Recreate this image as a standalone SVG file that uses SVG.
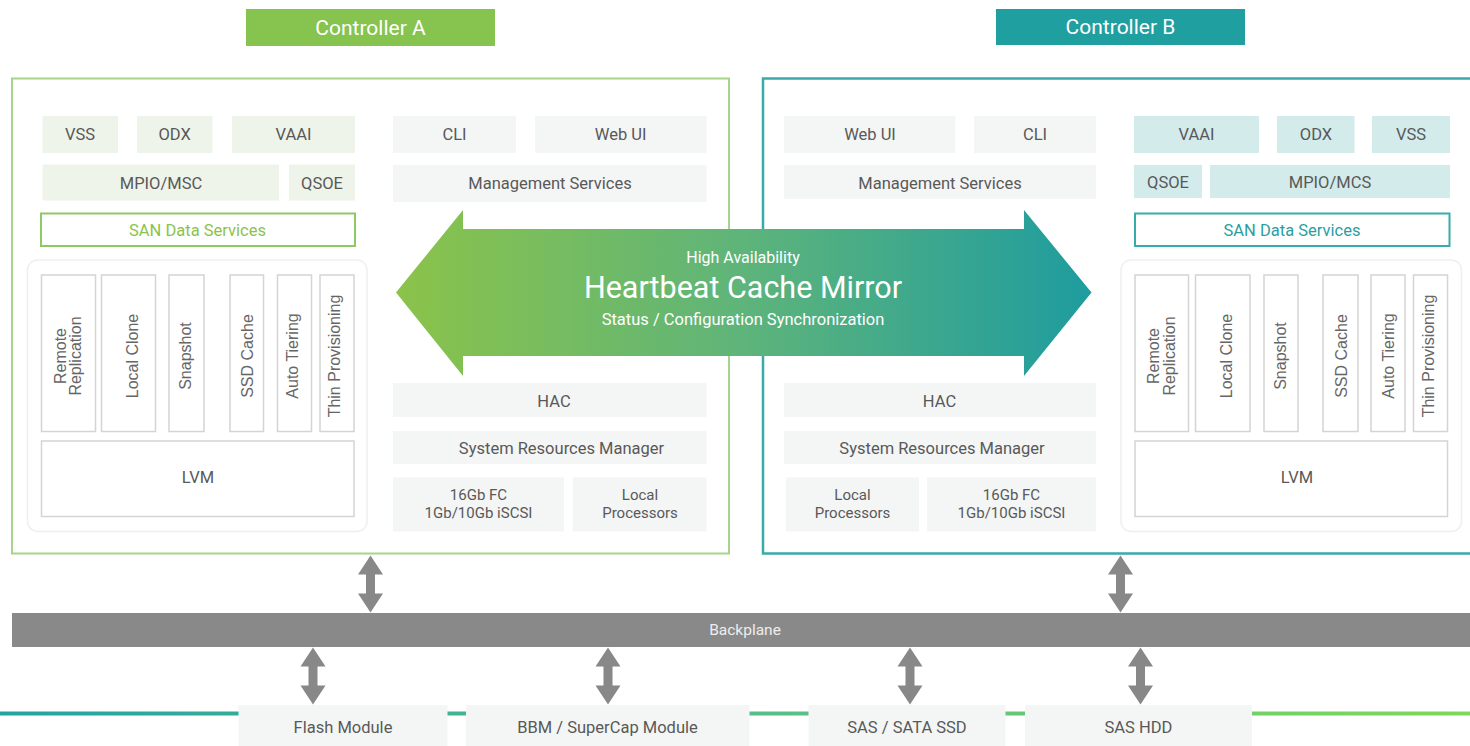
<svg xmlns="http://www.w3.org/2000/svg" xmlns:xlink="http://www.w3.org/1999/xlink" width="1470" height="746" viewBox="0 0 1470 746">
<defs>
<linearGradient id="haGrad" x1="396" y1="0" x2="1092" y2="0" gradientUnits="userSpaceOnUse">
<stop offset="0" stop-color="#8bc34a"/>
<stop offset="0.5" stop-color="#5eb47a"/>
<stop offset="1" stop-color="#1e9c9f"/>
</linearGradient>
<linearGradient id="lineGrad" x1="0" y1="0" x2="1470" y2="0" gradientUnits="userSpaceOnUse">
<stop offset="0" stop-color="#22a4a2"/>
<stop offset="0.5" stop-color="#55bd8a"/>
<stop offset="1" stop-color="#7ed957"/>
</linearGradient>
<path id="dbl" d="M0,0 L12.5,19 L4.5,19 L4.5,38 L12.5,38 L0,57 L-12.5,38 L-4.5,38 L-4.5,19 L-12.5,19 Z"/>
<style>
.lbl{font-family:Roboto,"Liberation Sans",sans-serif;font-size:16.5px;fill:#595959;text-anchor:middle}
.two{font-size:15px}
.vt{font-family:"Liberation Sans",Arial,sans-serif;font-size:16px;fill:#666;text-anchor:middle}
.gbox{fill:#f4f5f5}
.lg{fill:#eef4ea}
.lt{fill:#d3ebeb}
.col{fill:#fff;stroke:#d4d4d4;stroke-width:1.5}
.panel{fill:#fff;stroke:#efefef;stroke-width:1.5}
.bot{fill:#f4f6f5}
.title{font-family:Roboto,"Liberation Sans",sans-serif;font-size:21px;fill:#fff;text-anchor:middle}
.ha{font-family:Roboto,"Liberation Sans",sans-serif;fill:#fff;text-anchor:middle}
.conn{fill:#888}
</style>
</defs>
<rect width="1470" height="746" fill="#fff"/>

<!-- Controller titles -->
<g id="title-a"><rect x="246" y="9" width="249" height="37" fill="#86c34f"/><text class="title" x="370.5" y="34.5">Controller A</text></g>
<g id="title-b"><rect x="996" y="9" width="249" height="36" fill="#1f9fa0"/><text class="title" x="1120.5" y="34">Controller B</text></g>

<!-- Frames -->
<g id="frame-a"><rect x="12" y="78.5" width="717" height="475" fill="none" stroke="#a6d48a" stroke-width="2"/></g>
<g id="frame-b"><rect x="763" y="78.5" width="720" height="475" fill="none" stroke="#39a9a9" stroke-width="2.5"/></g>

<!-- Controller A nodes -->
<g id="a-vss"><rect class="lg" x="42.5" y="116" width="75.5" height="37"/><text class="lbl" x="80" y="140">VSS</text></g>
<g id="a-odx"><rect class="lg" x="137" y="116" width="75.5" height="37"/><text class="lbl" x="174.6" y="140">ODX</text></g>
<g id="a-vaai"><rect class="lg" x="232" y="116" width="123" height="37"/><text class="lbl" x="293.5" y="140">VAAI</text></g>
<g id="a-cli"><rect class="gbox" x="393" y="116" width="123" height="37"/><text class="lbl" x="454.5" y="140">CLI</text></g>
<g id="a-webui"><rect class="gbox" x="535" y="116" width="171.5" height="37"/><text class="lbl" x="620.6" y="140">Web UI</text></g>
<g id="a-mpio"><rect class="lg" x="42.5" y="164.5" width="236.5" height="36"/><text class="lbl" x="161" y="188.5">MPIO/MSC</text></g>
<g id="a-qsoe"><rect class="lg" x="289" y="164.5" width="66" height="36"/><text class="lbl" x="322" y="188.5">QSOE</text></g>
<g id="a-mgmt"><rect class="gbox" x="393" y="165" width="313.5" height="37"/><text class="lbl" x="550" y="188.5">Management Services</text></g>
<g id="a-san"><rect x="41" y="213.5" width="314" height="32.5" fill="#fff" stroke="#8fc866" stroke-width="2"/><text class="lbl" x="197.5" y="235.5" style="fill:#8bc34a">SAN Data Services</text></g>
<g id="a-panel"><rect class="panel" x="27.5" y="260" width="339.5" height="271.5" rx="10"/></g>
<g id="a-rr"><rect class="col" x="41.5" y="275" width="54" height="156.5"/><text class="vt" transform="translate(66,356) rotate(-90)">Remote</text><text class="vt" transform="translate(80.5,356) rotate(-90)">Replication</text></g>
<g id="a-lc"><rect class="col" x="101.5" y="275" width="54" height="156.5"/><text class="vt" transform="translate(138,356) rotate(-90)">Local Clone</text></g>
<g id="a-snap"><rect class="col" x="169" y="275" width="35" height="156.5"/><text class="vt" transform="translate(191,356) rotate(-90)">Snapshot</text></g>
<g id="a-ssd"><rect class="col" x="230" y="275" width="33.5" height="156.5"/><text class="vt" transform="translate(252.5,356) rotate(-90)">SSD Cache</text></g>
<g id="a-at"><rect class="col" x="277.5" y="275" width="34" height="156.5"/><text class="vt" transform="translate(297.5,356) rotate(-90)">Auto Tiering</text></g>
<g id="a-tp"><rect class="col" x="320" y="275" width="34" height="156.5"/><text class="vt" transform="translate(340,356) rotate(-90)">Thin Provisioning</text></g>
<g id="a-lvm"><rect class="col" x="41.5" y="441" width="312.5" height="75.5"/><text class="lbl" x="198" y="483">LVM</text></g>
<g id="a-hac"><rect class="gbox" x="393" y="383" width="313.5" height="34"/><text class="lbl" x="554" y="406.5">HAC</text></g>
<g id="a-srm"><rect class="gbox" x="393" y="431" width="313.5" height="33"/><text class="lbl" x="561.5" y="453.5">System Resources Manager</text></g>
<g id="a-fc"><rect class="gbox" x="393" y="477.5" width="171" height="54"/><text class="lbl two" x="478.5" y="500">16Gb FC</text><text class="lbl two" x="478.5" y="518">1Gb/10Gb iSCSI</text></g>
<g id="a-lp"><rect class="gbox" x="572.5" y="477.5" width="134" height="54"/><text class="lbl two" x="640" y="500">Local</text><text class="lbl two" x="640" y="518">Processors</text></g>

<!-- Controller B nodes -->
<g id="b-webui"><rect class="gbox" x="784" y="116" width="171.5" height="37"/><text class="lbl" x="870" y="140">Web UI</text></g>
<g id="b-cli"><rect class="gbox" x="974" y="116" width="122" height="37"/><text class="lbl" x="1035" y="140">CLI</text></g>
<g id="b-mgmt"><rect class="gbox" x="784" y="165" width="312" height="34"/><text class="lbl" x="940" y="188.5">Management  Services</text></g>
<g id="b-vaai"><rect class="lt" x="1134" y="116" width="125" height="37"/><text class="lbl" x="1196.5" y="140">VAAI</text></g>
<g id="b-odx"><rect class="lt" x="1277" y="116" width="77.5" height="37"/><text class="lbl" x="1316" y="140">ODX</text></g>
<g id="b-vss"><rect class="lt" x="1372" y="116" width="78" height="37"/><text class="lbl" x="1411" y="140">VSS</text></g>
<g id="b-qsoe"><rect class="lt" x="1134" y="165" width="68" height="33"/><text class="lbl" x="1168" y="188">QSOE</text></g>
<g id="b-mpio"><rect class="lt" x="1210" y="165" width="240" height="33"/><text class="lbl" x="1330" y="188">MPIO/MCS</text></g>
<g id="b-san"><rect x="1135" y="213.5" width="314.5" height="32.5" fill="#fff" stroke="#3aabab" stroke-width="2"/><text class="lbl" x="1292" y="235.5" style="fill:#2a9fa0">SAN Data Services</text></g>
<g id="b-panel"><rect class="panel" x="1121" y="260" width="340.5" height="271.5" rx="10"/></g>
<g id="b-rr"><rect class="col" x="1135" y="275" width="53.5" height="156.5"/><text class="vt" transform="translate(1159,356) rotate(-90)">Remote</text><text class="vt" transform="translate(1174.5,356) rotate(-90)">Replication</text></g>
<g id="b-lc"><rect class="col" x="1195.5" y="275" width="54.5" height="156.5"/><text class="vt" transform="translate(1232,356) rotate(-90)">Local Clone</text></g>
<g id="b-snap"><rect class="col" x="1264" y="275" width="34" height="156.5"/><text class="vt" transform="translate(1285.5,356) rotate(-90)">Snapshot</text></g>
<g id="b-ssd"><rect class="col" x="1323" y="275" width="35" height="156.5"/><text class="vt" transform="translate(1347,356) rotate(-90)">SSD Cache</text></g>
<g id="b-at"><rect class="col" x="1371" y="275" width="34" height="156.5"/><text class="vt" transform="translate(1393.5,356) rotate(-90)">Auto Tiering</text></g>
<g id="b-tp"><rect class="col" x="1413.5" y="275" width="34" height="156.5"/><text class="vt" transform="translate(1434,356) rotate(-90)">Thin Provisioning</text></g>
<g id="b-lvm"><rect class="col" x="1135" y="441" width="312.5" height="75.5"/><text class="lbl" x="1297" y="483">LVM</text></g>
<g id="b-hac"><rect class="gbox" x="784" y="383" width="312" height="34"/><text class="lbl" x="939.5" y="406.5">HAC</text></g>
<g id="b-srm"><rect class="gbox" x="784" y="431" width="312" height="33"/><text class="lbl" x="942" y="453.5">System Resources Manager</text></g>
<g id="b-lp"><rect class="gbox" x="786" y="477.5" width="133" height="54"/><text class="lbl two" x="852.5" y="500">Local</text><text class="lbl two" x="852.5" y="518">Processors</text></g>
<g id="b-fc"><rect class="gbox" x="927" y="477.5" width="169" height="54"/><text class="lbl two" x="1011.5" y="500">16Gb FC</text><text class="lbl two" x="1011.5" y="518">1Gb/10Gb iSCSI</text></g>

<!-- High availability arrow -->
<g id="ha-arrow">
<path d="M396,292.5 L463,210 L463,229 L1024,229 L1024,210 L1091.5,292.5 L1024,376 L1024,356 L463,356 L463,376 Z" fill="url(#haGrad)"/>
<text class="ha" x="743" y="262.5" font-size="16">High Availability</text>
<text class="ha" x="743" y="297.5" font-size="30.5">Heartbeat Cache Mirror</text>
<text class="ha" x="743" y="325" font-size="16.5">Status / Configuration Synchronization</text>
</g>

<!-- Bottom line -->
<g id="base-line"><rect x="0" y="711.5" width="1470" height="4" fill="url(#lineGrad)"/></g>

<!-- Backplane -->
<g id="backplane"><rect x="12" y="613" width="1458" height="34" fill="#898989"/><text class="lbl" x="745" y="635" style="fill:#eeeeee;font-size:15.5px">Backplane</text></g>

<!-- Modules -->
<g id="flash"><rect class="bot" x="238.5" y="705" width="209" height="41"/><text class="lbl" x="343" y="733">Flash Module</text></g>
<g id="bbm"><rect class="bot" x="466" y="705" width="283.5" height="41"/><text class="lbl" x="607.5" y="733">BBM / SuperCap Module</text></g>
<g id="ssd-mod"><rect class="bot" x="808.5" y="705" width="197" height="41"/><text class="lbl" x="907" y="733">SAS / SATA SSD</text></g>
<g id="hdd"><rect class="bot" x="1025" y="705" width="227" height="41"/><text class="lbl" x="1138.5" y="733">SAS HDD</text></g>

<!-- Connectors -->
<g id="connectors" class="conn">
<use xlink:href="#dbl" href="#dbl" transform="translate(370.5,555.5)"/>
<use xlink:href="#dbl" href="#dbl" transform="translate(1120.5,555.5)"/>
<use xlink:href="#dbl" href="#dbl" transform="translate(313,647.5)"/>
<use xlink:href="#dbl" href="#dbl" transform="translate(608,647.5)"/>
<use xlink:href="#dbl" href="#dbl" transform="translate(910,647.5)"/>
<use xlink:href="#dbl" href="#dbl" transform="translate(1140.5,647.5)"/>
</g>
</svg>
